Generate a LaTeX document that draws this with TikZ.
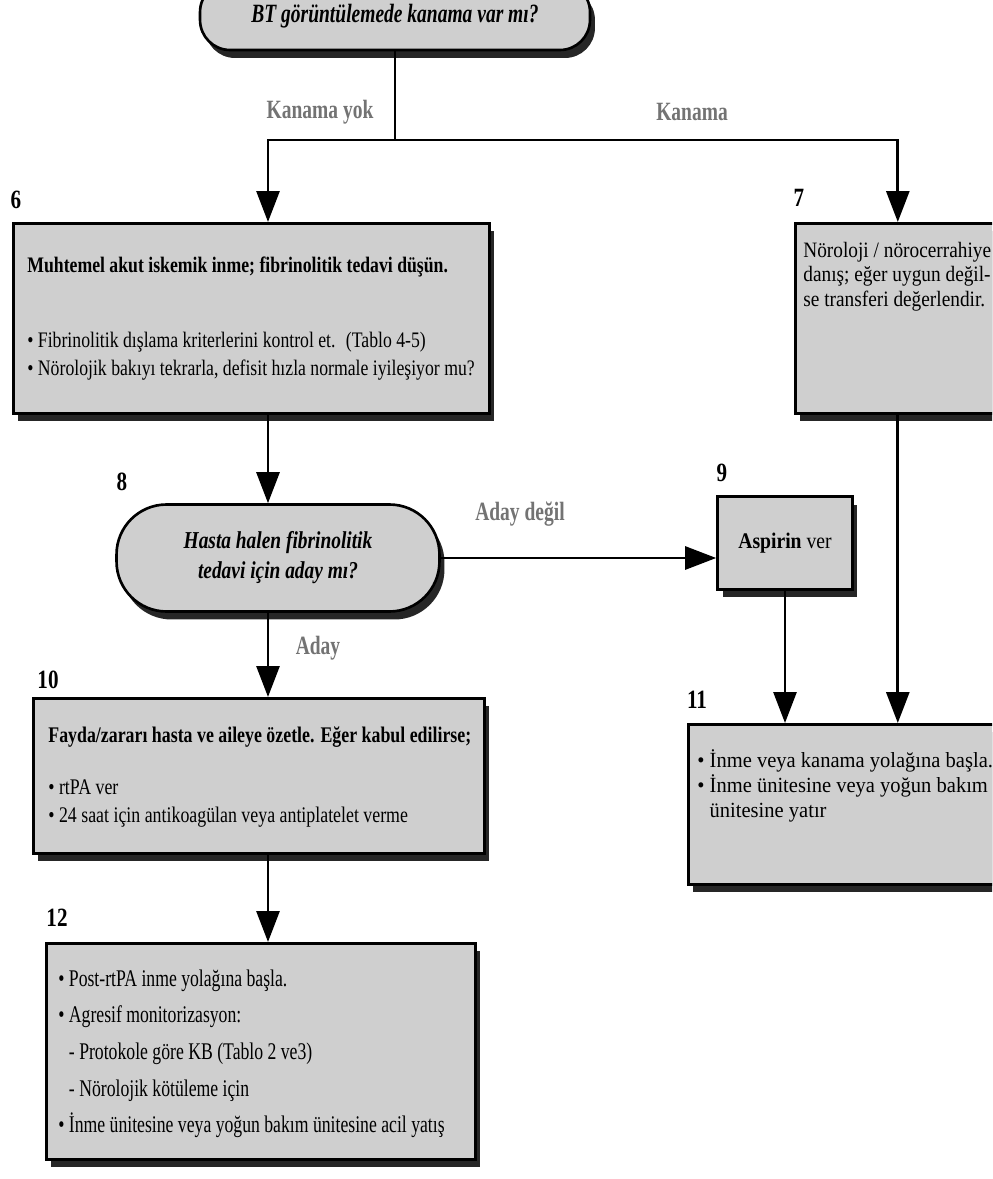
\documentclass[tikz,border=0pt]{standalone}
\usepackage{fontspec}
\setmainfont{Liberation Serif}
\newfontfamily\serifA[FakeStretch=0.74]{Liberation Serif}
\newfontfamily\serifB[FakeStretch=0.8]{Liberation Serif}
\newfontfamily\serifC[FakeStretch=0.88]{Liberation Serif}
\newfontfamily\serifD[FakeStretch=0.95]{Liberation Serif}
\usetikzlibrary{arrows.meta}
\usetikzlibrary{shadows}

\begin{document}
\begin{tikzpicture}
[x=0.02cm,y=-0.02cm,%
  box/.style={draw,line width=1.5pt,fill=black!19,inner sep=0pt,
    drop shadow={shadow xshift=0.1cm,shadow yshift=-0.16cm,fill=black!85,opacity=1}},%
  txt/.style={anchor=base west,align=flush left,inner sep=0pt,text width=10cm},%
  num/.style={inner sep=0pt,font=\serifB\bfseries\fontsize{15}{15}\selectfont},%
  tag/.style={inner sep=0pt,text=black!55,font=\serifA\bfseries\fontsize{15}{15}\selectfont},%
  line/.style={line width=1.6pt},%
  arr/.style={line width=1.6pt,-{Triangle[length=0.62cm,width=0.46cm]}}]
\useasboundingbox (0,0) rectangle (992,1179);
\clip (0,0) rectangle (992,1179);

\coordinate (trunk) at (268,0);
\coordinate (fork) at (395,140);

\node[box,rounded corners=0.6cm,minimum width=7.8cm,minimum height=1.36cm,
  font=\serifA\bfseries\itshape\fontsize{15}{15}\selectfont] (q5) at (395,16)
  {BT görüntülemede kanama var mı?};

\node[num] (n6) at (16,200) {6};
\node[box,anchor=north west,minimum width=9.52cm,minimum height=3.8cm] (b6) at (12,222) {};
\node[txt,font=\serifB\fontsize{12.6}{16}\selectfont] (t6) at (27,272)
  {\textbf{Muhtemel akut iskemik inme; fibrinolitik tedavi düşün.}\\[27pt]
   • Fibrinolitik dışlama kriterlerini kontrol et.~ (Tablo 4-5)\\
   • Nörolojik bakıyı tekrarla, defisit hızla normale iyileşiyor mu?};

\node[num] (n7) at (799,198) {7};
\node[box,anchor=north west,minimum width=4.1cm,minimum height=3.8cm] (b7) at (794,222) {};
\node[txt,font=\serifC\fontsize{12.5}{14.2}\selectfont] (t7) at (803,257)
  {Nöroloji / nörocerrahiye\\
   danış; eğer uygun değil-\\
   se transferi değerlendir.};

\node[num] (n8) at (122,482) {8};
\node[box,rounded corners=1cm,minimum width=6.46cm,minimum height=2.14cm,align=flush center,
  font=\serifB\bfseries\itshape\fontsize{13.8}{17}\selectfont] (q8) at (278,558)
  {Hasta halen fibrinolitik\\tedavi için aday mı?};

\node[num] (n9) at (722,473) {9};
\node[box,minimum width=2.7cm,minimum height=1.86cm,
  font=\serifC\fontsize{12.7}{14}\selectfont] (b9) at (785,543) {\textbf{Aspirin} ver};

\node[num] (n10) at (48,680) {10};
\node[box,anchor=north west,minimum width=9.02cm,minimum height=3.1cm] (b10) at (32,697) {};
\node[txt,font=\serifB\fontsize{12.7}{16}\selectfont] (t10) at (48,742)
  {\textbf{Fayda/zararı hasta ve aileye özetle. Eğer kabul edilirse;}\\[14pt]
   • rtPA ver\\
   • 24 saat için antikoagülan veya antiplatelet verme};

\node[num] (n11) at (697,700) {11};
\node[box,anchor=north west,minimum width=6.34cm,minimum height=3.2cm] (b11) at (687,723) {};
\node[txt,font=\serifD\fontsize{12.3}{14.3}\selectfont] (t11) at (697,767)
  {• İnme veya kanama yolağına başla.\\
   • İnme ünitesine veya yoğun bakım\\
   \hphantom{• }ünitesine yatır};

\node[num] (n12) at (57,918) {12};
\node[box,anchor=north west,minimum width=8.58cm,minimum height=4.32cm] (b12) at (45,942) {};
\node[txt,font=\serifA\fontsize{13.6}{20.9}\selectfont] (t12) at (58,986)
  {• Post-rtPA inme yolağına başla.\\
   • Agresif monitorizasyon:\\
   \hphantom{• }- Protokole göre KB (Tablo 2 ve3)\\
   \hphantom{• }- Nörolojik kötüleme için\\
   • İnme ünitesine veya yoğun bakım ünitesine acil yatış};

\draw[line] (q5.south) -- (fork);
\draw[arr] (fork) -| (b6.north -| trunk);
\draw[arr] (fork) -| (b7.north);
\node[tag] (l1) at (320,112) {Kanama yok};
\node[tag] (l2) at (692,112) {Kanama};

\draw[arr] (b6.south -| trunk) -- (q8.north -| trunk);
\draw[arr] (q8.east) -- (q8.east -| b9.west);
\node[tag] (l3) at (520,514) {Aday değil};
\draw[arr] (q8.south -| trunk) -- (b10.north -| trunk);
\node[tag] (l4) at (318,648) {Aday};
\draw[arr] (b10.south -| trunk) -- (b12.north -| trunk);
\draw[arr] (b9.south) -- (b9.south |- b11.north);
\draw[arr] (b7.south) -- (b7.south |- b11.north);
\end{tikzpicture}
\end{document}
